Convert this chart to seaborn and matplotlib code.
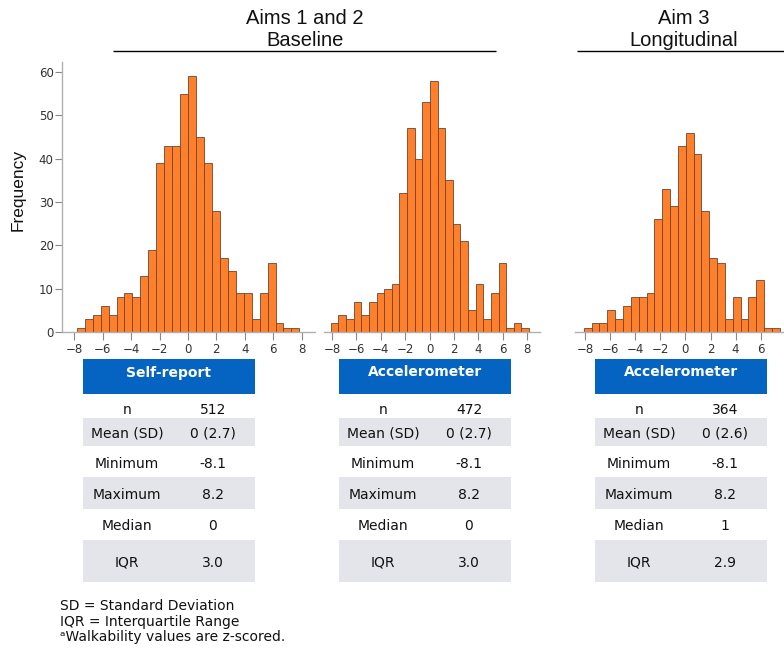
import numpy as np
import pandas as pd
import seaborn as sns
import matplotlib
matplotlib.use("Agg")
import matplotlib.pyplot as plt
from matplotlib.patches import Rectangle

# ---------------- data ----------------
# histogram counts (walkability z-scores)
selfreport_counts = [1, 3, 4, 6, 4, 8, 9, 8, 13, 19, 39, 43, 43, 55, 59, 45, 39, 28,
                     17, 14, 9, 9, 3, 9, 16, 2, 1, 1]
selfreport_bin_start = -7.83
selfreport_bin_width = 0.56

accel_base_counts = [2, 4, 3, 7, 4, 7, 9, 10, 11, 32, 47, 40, 53, 58, 47, 35, 25, 21,
                     5, 11, 3, 9, 16, 1, 2, 1]
accel_base_bin_start = -8.1
accel_base_bin_width = 0.625

accel_long_counts = [1, 2, 2, 5, 3, 6, 8, 8, 9, 26, 33, 29, 43, 46, 41, 28, 17, 16,
                     3, 8, 3, 8, 12, 1, 1]
accel_long_bin_start = -8.1
accel_long_bin_width = 0.625

x_ticks = [-8, -6, -4, -2, 0, 2, 4, 6, 8]
x_ticks_longitudinal = [-8, -6, -4, -2, 0, 2, 4, 6]   # 8 falls off the right edge
y_ticks = [0, 10, 20, 30, 40, 50, 60]

table_headers = ["Self-report", "Accelerometer", "Accelerometer"]
row_labels = ["n", "Mean (SD)", "Minimum", "Maximum", "Median", "IQR"]
selfreport_stats = ["512", "0 (2.7)", "-8.1", "8.2", "0", "3.0"]
accel_base_stats = ["472", "0 (2.7)", "-8.1", "8.2", "0", "3.0"]
accel_long_stats = ["364", "0 (2.6)", "-8.1", "8.2", "1", "2.9"]

group_titles = [("Aims 1 and 2", "Baseline"), ("Aim 3", "Longitudinal")]
footnotes = ["SD = Standard Deviation", "IQR = Interquartile Range",
             "\u1d43Walkability values are z-scored."]

# ---------------- style ----------------
sns.set_style("white")
plt.rcParams["font.family"] = ["DejaVu Sans"]

W, H = 784, 649
fig = plt.figure(figsize=(W / 100, H / 100), dpi=100)

BAR = "#FF7F2A"
EDGE = "#6a4634"
BLUE = "#0563C1"
GRAY = "#E4E5EA"


def px_axes(left, right, bottom, top):
    return fig.add_axes([left / W, 1 - bottom / H, (right - left) / W, (bottom - top) / H])


def hist_panel(ax, counts, start, width, xlim, ticks, show_y):
    edges = [float(start + width * k) for k in range(len(counts) + 1)]
    centers = [(edges[k] + edges[k + 1]) / 2 for k in range(len(counts))]
    df = pd.DataFrame({"z": centers, "count": counts})
    sns.histplot(data=df, x="z", weights="count", bins=edges, ax=ax,
                 color=BAR, edgecolor=EDGE, linewidth=0.6, alpha=1.0)
    ax.set_xlim(*xlim)
    ax.set_ylim(0, 62.3)
    ax.set_xticks(ticks)
    ax.set_xticklabels([("\u2212" + str(-t)) if t < 0 else str(t) for t in ticks])
    ax.set_xlabel("")
    ax.set_ylabel("")
    for s in ["top", "right"]:
        ax.spines[s].set_visible(False)
    ax.spines["bottom"].set_color("#b0b0b0")
    ax.spines["bottom"].set_linewidth(1.0)
    ax.tick_params(axis="x", direction="out", length=5.5, width=0.8, color="#888888",
                   labelsize=8.5, labelcolor="#333333", pad=2.5, bottom=True)
    if show_y:
        ax.spines["left"].set_color("#b0b0b0")
        ax.spines["left"].set_linewidth(1.0)
        ax.set_yticks(y_ticks)
        ax.tick_params(axis="y", direction="out", length=5, width=0.8, color="#888888",
                       labelsize=8.5, labelcolor="#333333", pad=1, left=True)
    else:
        ax.spines["left"].set_visible(False)
        ax.set_yticks([])
    ax.patch.set_alpha(0)


# overlay axes in pixel coordinates for titles, tables, notes
ov = fig.add_axes([0, 0, 1, 1])
ov.set_xlim(0, W)
ov.set_ylim(H, 0)
ov.axis("off")

ax1 = px_axes(62, 315, 332, 62)
hist_panel(ax1, selfreport_counts, selfreport_bin_start, selfreport_bin_width,
           (-8.87, 8.95), x_ticks, True)
ax2 = px_axes(324, 540, 332, 62)
hist_panel(ax2, accel_base_counts, accel_base_bin_start, accel_base_bin_width,
           (-8.66, 9.05), x_ticks, False)
ax3 = px_axes(575, 800, 332, 62)
hist_panel(ax3, accel_long_counts, accel_long_bin_start, accel_long_bin_width,
           (-8.8, 9.13), x_ticks_longitudinal, False)

ov.text(18, 190, "Frequency", rotation=90, ha="center", va="center",
        fontsize=12.5, family=["Liberation Sans", "DejaVu Sans"], color="#111111")

# group titles
for (l1, l2), xc, (x0, x1) in zip(group_titles, [305, 684], [(113, 496), (577, 784)]):
    ov.text(xc, 24, l1, ha="center", va="baseline", fontsize=14.5,
            family=["Liberation Sans", "DejaVu Sans"], color="#111111")
    ov.text(xc, 46, l2, ha="center", va="baseline", fontsize=14.5,
            family=["Liberation Sans", "DejaVu Sans"], color="#111111")
    ov.plot([x0, x1], [50.5, 50.5], color="black", lw=1.0, solid_capstyle="butt")

# tables
row_base = [414, 437.5, 467.5, 499, 530.5, 567]
gray_rows = {1: (417.5, 446), 3: (477, 508.5), 5: (540, 581.5)}
for left, header, stats in zip([83, 339, 595], table_headers,
                               [selfreport_stats, accel_base_stats, accel_long_stats]):
    wbox = 172
    ov.add_patch(Rectangle((left, 359), wbox, 35, facecolor=BLUE, edgecolor="none"))
    ov.text(left + wbox / 2, 376.5, header, ha="center", va="baseline", color="white",
            fontsize=10, fontweight="bold")
    for i, (lab, val) in enumerate(zip(row_labels, stats)):
        if i in gray_rows:
            y0, y1 = gray_rows[i]
            ov.add_patch(Rectangle((left, y0), wbox, y1 - y0, facecolor=GRAY,
                                   edgecolor="none"))
        ov.text(left + 44, row_base[i], lab, ha="center", va="baseline",
                fontsize=10, color="#111111")
        ov.text(left + 130, row_base[i], val, ha="center", va="baseline",
                fontsize=10, color="#111111")

for txt, yb in zip(footnotes, [610, 626, 641]):
    ov.text(60, yb, txt, ha="left", va="baseline", fontsize=10, color="#111111")

fig.savefig("out.png", dpi=100)
